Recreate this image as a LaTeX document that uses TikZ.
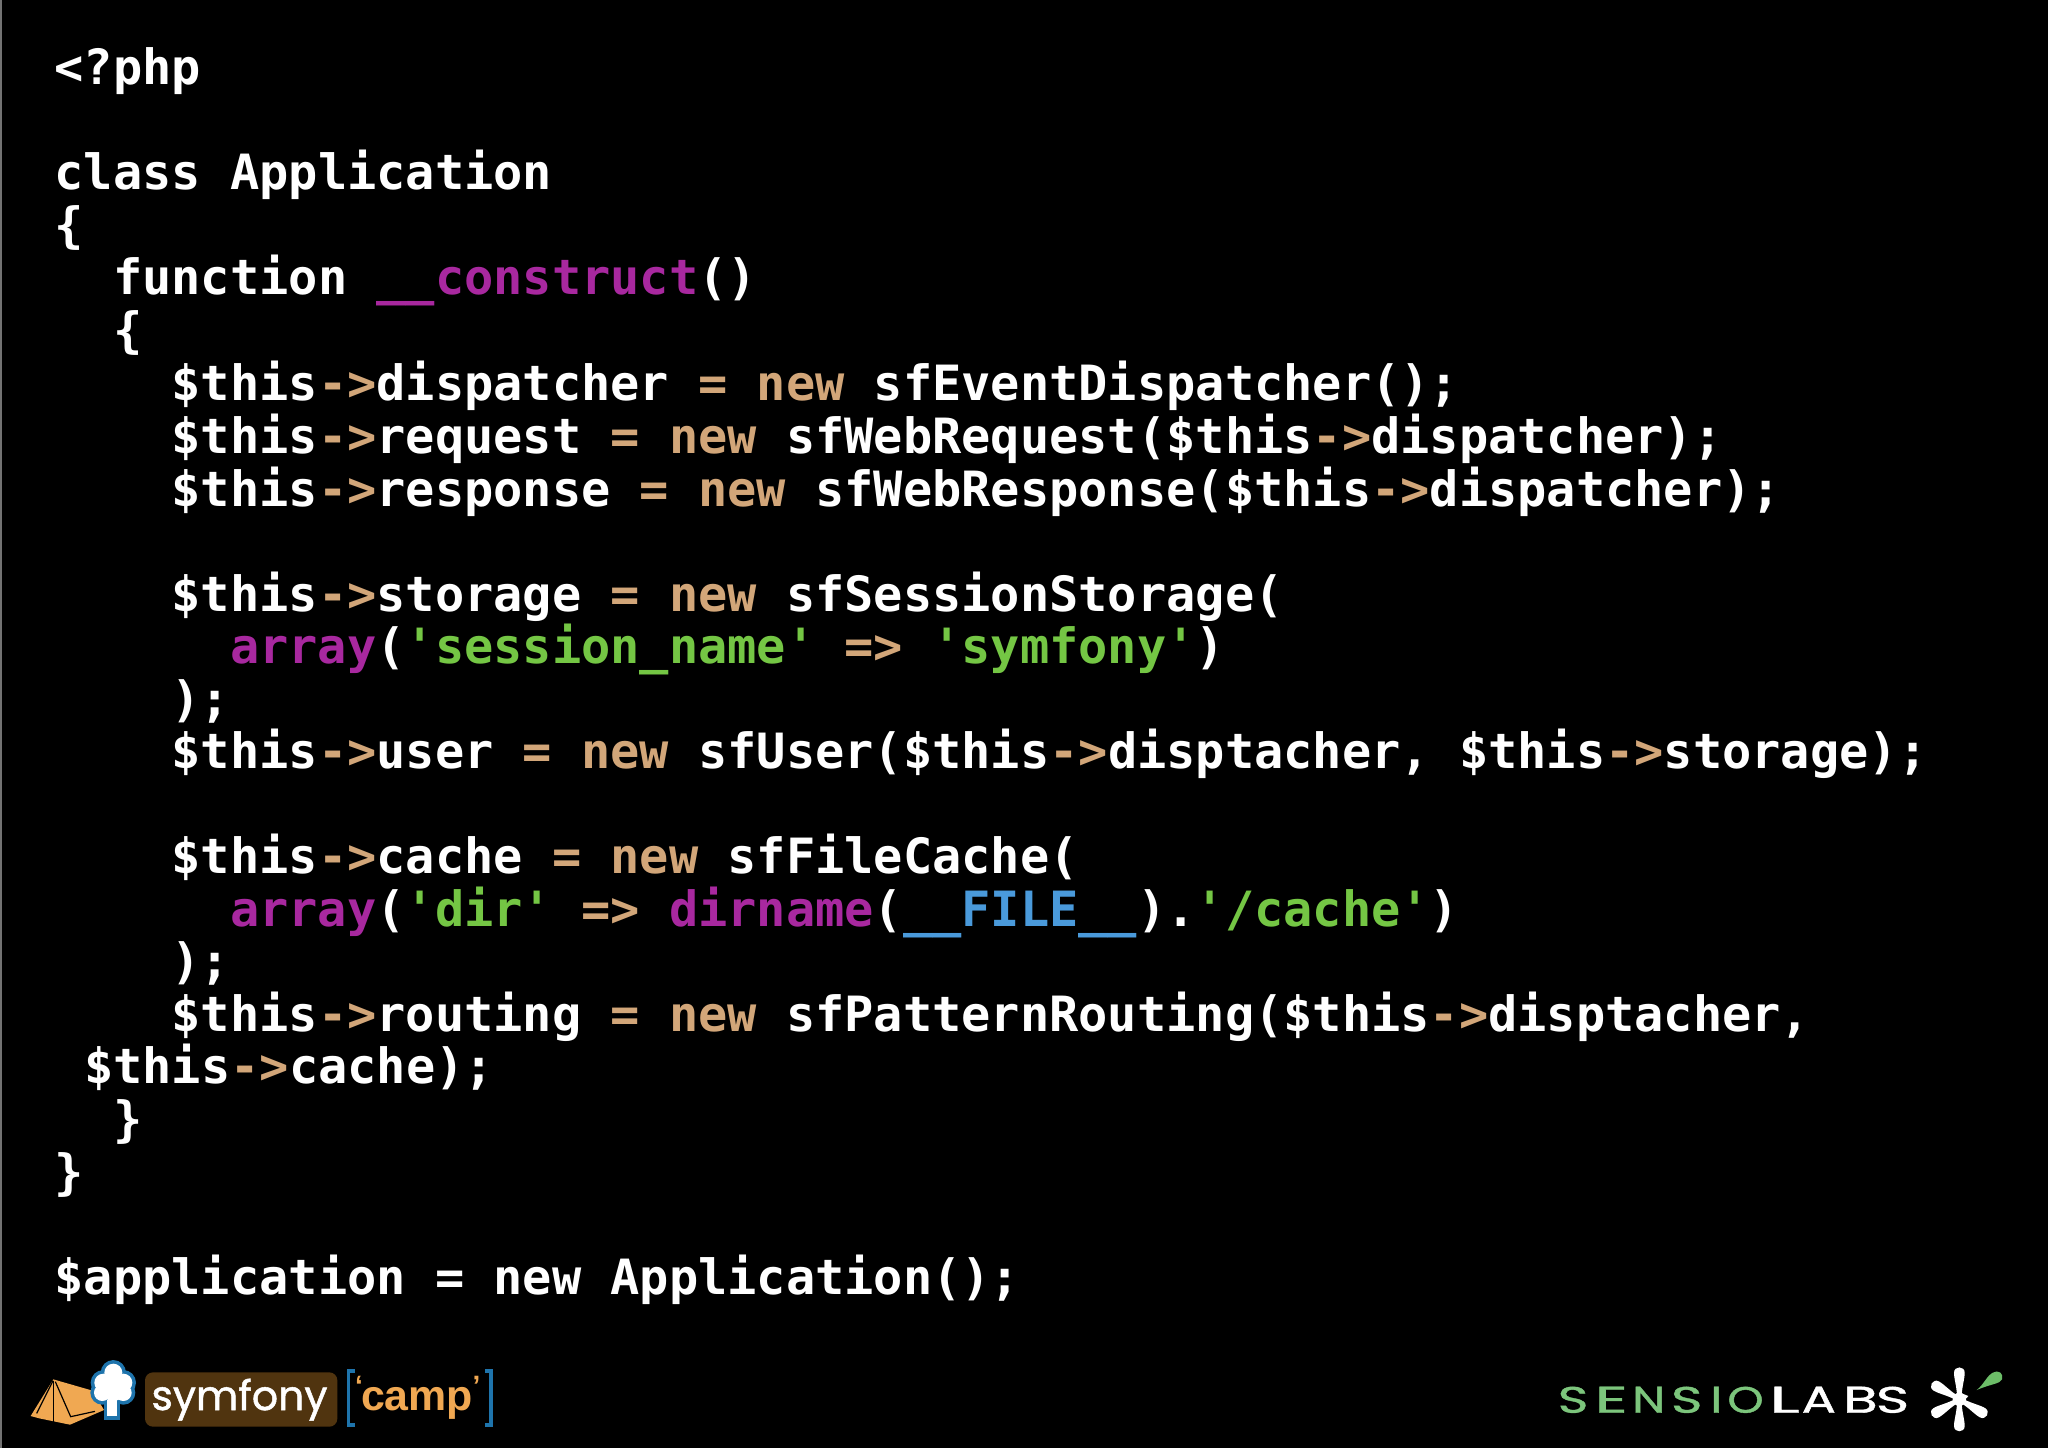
\documentclass[tikz,border=0pt]{standalone}
\usepackage{fontspec}
\usepackage{graphicx}
\newfontfamily\codefont{DejaVu Sans Mono Bold}[Ligatures=NoCommon]
\newfontfamily\logofont{Poppins}[FakeBold=1.2]
\newfontfamily\slfont{Poppins}[FakeBold=1.0]
\newfontfamily\campfont{Liberation Sans Bold}
\definecolor{op}{HTML}{D2A679}
\definecolor{fn}{HTML}{A8289F}
\definecolor{str}{HTML}{74C644}
\definecolor{cst}{HTML}{4A9ADB}
\definecolor{tentc}{HTML}{F0A852}
\definecolor{logob}{HTML}{1E74AC}
\definecolor{brownc}{HTML}{50340F}
\definecolor{sl}{HTML}{7CC57C}
\definecolor{drop}{HTML}{6CBD68}
\newcommand{\Op}[1]{\textcolor{op}{#1}}
\newcommand{\Fn}[1]{\textcolor{fn}{#1}}
\newcommand{\Str}[1]{\textcolor{str}{#1}}
\newcommand{\Cst}[1]{\textcolor{cst}{#1}}
\newcommand{\Th}{\$this\Op{->}}
% name, colour, letter, ink left, ink right, box/ink factor
\newcommand{\SLch}[6]{%
  \pgfmathsetmacro{\slw}{(#5-#4)/3*0.5*#6}%
  \node[inner sep=0pt,outer sep=0pt,anchor=base,text=#2] (#1) at ({1530+(#4+#5)/6},1412.7) {\slfont\resizebox{\slw pt}{13pt}{#3}};}
\tikzset{code/.style={anchor=base west,inner sep=0pt,outer sep=0pt,text=white,font=\codefont\fontsize{24.3}{28}\selectfont},
 bracket/.style={draw=logob,line width=1.6pt,line join=miter},
 word/.style={anchor=base west,inner sep=0pt,outer sep=0pt},
 quot/.style={word,text=tentc,font=\campfont\fontsize{14}{16}\selectfont}}
\begin{document}
\begin{tikzpicture}[x=0.5pt,y=-0.5pt]
\useasboundingbox (0,0) rectangle (2048,1447);
\fill[black] (-4,-4) rectangle (2052,1451);
\fill[black!55] (-4,-4) rectangle (1.5,1451);
\begin{scope}[shift={(-0.3,1.3)}]
\node[code] (l0) at (55,83) {<?php};
\node[code] (l2) at (55,188.5) {class Application};
\node[code] (l3) at (55,241) {\{};
\node[code] (l4) at (113.5,293) {function \Fn{\_\_construct}()};
\node[code] (l5) at (113.5,346) {\{};
\node[code] (l6) at (172,399.5) {\Th dispatcher \Op{=} \Op{new} sfEventDispatcher();};
\node[code] (l7) at (172,452) {\Th request \Op{=} \Op{new} sfWebRequest(\Th dispatcher);};
\node[code] (l8) at (172,505) {\Th response \Op{=} \Op{new} sfWebResponse(\Th dispatcher);};
\node[code] (l10) at (172,610) {\Th storage \Op{=} \Op{new} sfSessionStorage(};
\node[code] (l11) at (230.5,662) {\Fn{array}(\Str{'session\_name'} \Op{=>} \Str{'symfony'})};
\node[code] (l12) at (172,715) {);};
\node[code] (l13) at (172,767) {\Th user \Op{=} \Op{new} sfUser(\Th disptacher, \Th storage);};
\node[code] (l15) at (172,872) {\Th cache \Op{=} \Op{new} sfFileCache(};
\node[code] (l16) at (230.5,925) {\Fn{array}(\Str{'dir'} \Op{=>} \Fn{dirname}(\Cst{\_\_FILE\_\_}).\Str{'/cache'})};
\node[code] (l17) at (172,977) {);};
\node[code] (l18) at (172,1030) {\Th routing \Op{=} \Op{new} sfPatternRouting(\Th disptacher,};
\node[code] (l19) at (84.5,1082) {\Th cache);};
\node[code] (l20) at (113.5,1135) {\}};
\node[code] (l21) at (55,1188) {\}};
\node[code] (l23) at (55,1293) {\$application = new Application();};
\end{scope}
% tent and tree
\begin{scope}[shift={(20,1350)},x=0.16667pt,y=-0.16667pt]
\fill[tentc] (100,88) -- (218,122) -- (252,180) -- (150,224) -- (58,205) -- (32,198) -- cycle;
\draw[black,line width=0.6pt] (99,92) -- (50,190);
\draw[black,line width=0.6pt] (100,92) -- (100,222);
\draw[black,line width=0.6pt] (106,95) -- (152,200) -- (225,184);
\foreach \c/\r in {{(280,68)}/27,{(250,98)}/27,{(310,98)}/27,{(247,128)}/25,{(310,128)}/25,{(280,115)}/38}
  \fill[logob] \c circle[radius=\r+11];
\fill[logob] (251,150) rectangle (301,210);
\foreach \c/\r in {{(280,68)}/27,{(250,98)}/27,{(310,98)}/27,{(247,128)}/25,{(310,128)}/25,{(280,115)}/38}
  \fill[white] \c circle[radius=\r];
\fill[white] (262,150) rectangle (290,198);
\end{scope}
% symfony camp
\begin{scope}[shift={(140,1365)},x=0.16667pt,y=-0.16667pt]
\fill[brownc,rounded corners=4pt] (15,22) rectangle (592,185);
\draw[bracket] (645,18) -- (625,18) -- (625,180) -- (645,180);
\draw[bracket] (1035,18) -- (1053,18) -- (1053,180) -- (1035,180);
\end{scope}
\node[word,text=white] (symf) at (151.5,1410) {\logofont\resizebox{88pt}{!}{symfony}};
\node[word,text=tentc] (camp) at (361,1410) {\campfont\resizebox{56pt}{!}{camp}};
\node[quot] (qo) at (355,1395) {‘};
\node[quot] (qc) at (472.5,1395) {’};
% sensiolabs word
\SLch{a1}{sl}{S}{90}{168}{1.18}
\SLch{a2}{sl}{E}{207}{280}{1.36}
\SLch{a3}{sl}{N}{320}{392}{1.38}
\SLch{a4}{sl}{S}{430}{510}{1.18}
\SLch{a5}{sl}{I}{552}{566}{2.6}
\SLch{a6}{sl}{O}{598}{695}{1.12}
\SLch{a7}{white}{L}{732}{795}{1.45}
\SLch{a8}{white}{A}{818}{915}{1.06}
\SLch{a9}{white}{B}{952}{1030}{1.34}
\SLch{a10}{white}{S}{1045}{1130}{1.18}
% star
\begin{scope}[shift={(1920,1360)},x=0.16667pt,y=-0.16667pt]
\fill[white] (118,118) circle[radius=20];
\foreach \a in {90,150,210,270,330}
  \fill[white,shift={(118,118)},rotate=\a] (0,-7) .. controls (35,-6) and (58,-16) .. (80,-16) .. controls (101,-16) and (101,16) .. (80,16) .. controls (58,16) and (35,6) .. (0,7) -- cycle;
\fill[white] (125,100) -- (145,108) -- (130,125) -- cycle;
\fill[drop] (170,90) .. controls (190,75) and (200,48) .. (218,38) .. controls (235,28) and (252,40) .. (246,58) .. controls (240,72) and (210,72) .. (170,90) -- cycle;
\end{scope}
\end{tikzpicture}
\end{document}
